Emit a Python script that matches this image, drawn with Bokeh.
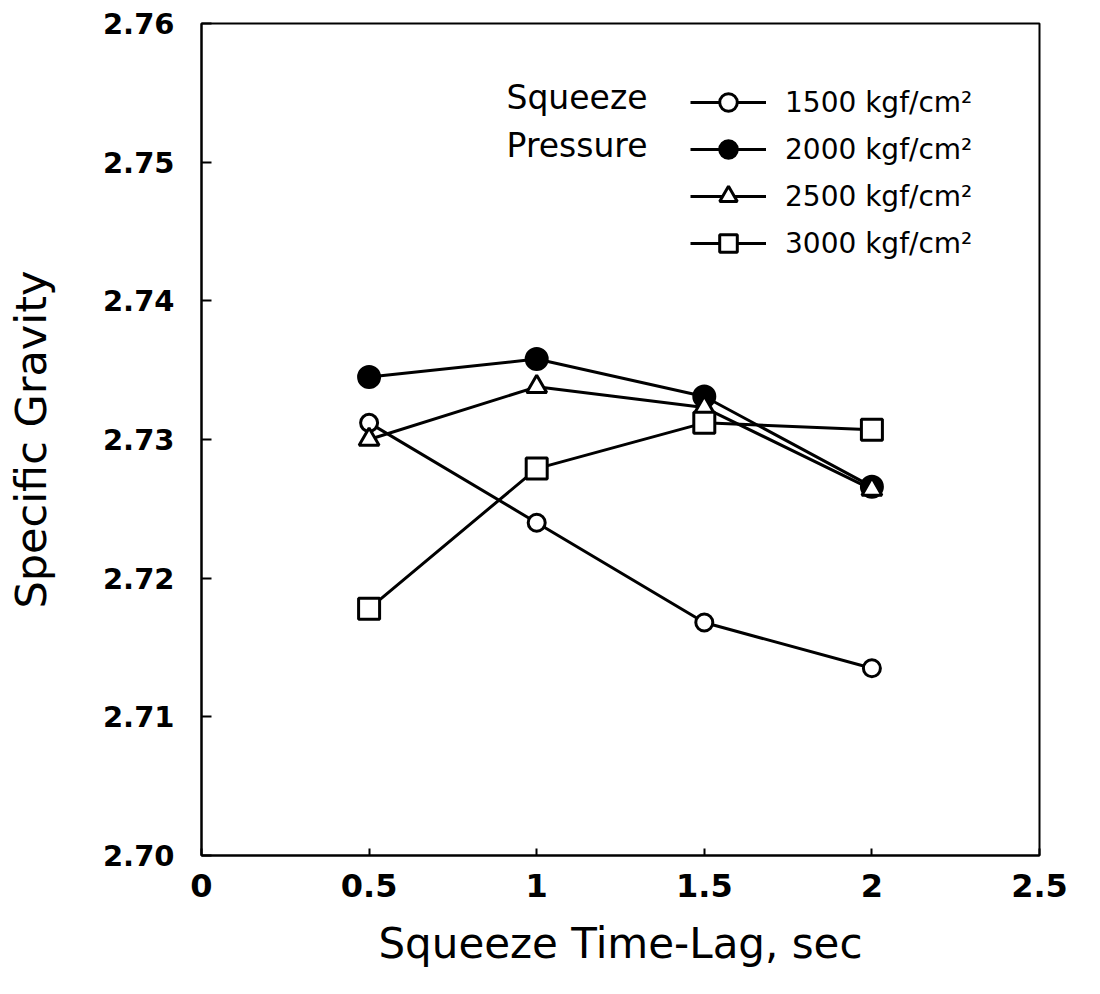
from bokeh.plotting import figure
from bokeh.models import Legend, LegendItem, Label, FixedTicker, Range1d
from bokeh.embed import file_html
from bokeh.resources import INLINE

# ---- data ----
time_lag = [0.5, 1.0, 1.5, 2.0]
sg_1500 = [2.7312, 2.7240, 2.7168, 2.7135]
sg_2000 = [2.7345, 2.7358, 2.7331, 2.7266]
sg_2500 = [2.7300, 2.7338, 2.7323, 2.7264]
sg_3000 = [2.7178, 2.7279, 2.7312, 2.7307]
series_labels = ["1500 kgf/cm\u00b2", "2000 kgf/cm\u00b2", "2500 kgf/cm\u00b2", "3000 kgf/cm\u00b2"]
x_ticks = [0, 0.5, 1, 1.5, 2, 2.5]
x_tick_labels = ["0", "0.5", "1", "1.5", "2", "2.5"]
y_ticks = [2.70, 2.71, 2.72, 2.73, 2.74, 2.75, 2.76]
y_tick_labels = ["2.70", "2.71", "2.72", "2.73", "2.74", "2.75", "2.76"]
x_title = "Squeeze Time-Lag, sec"
y_title = "Specific Gravity"
legend_title = ["Squeeze", "Pressure"]

p = figure(width=1080, height=978, output_backend="svg", toolbar_location=None,
           x_range=Range1d(0, 2.5), y_range=Range1d(2.70, 2.76),
           min_border_left=201, min_border_right=41, min_border_top=23, min_border_bottom=123)
p.background_fill_color = "white"
p.border_fill_color = "white"
p.xgrid.visible = False
p.ygrid.visible = False
p.outline_line_color = "black"
p.outline_line_width = 2

# axes
p.xaxis.ticker = FixedTicker(ticks=x_ticks)
p.xaxis.major_label_overrides = {t: l for t, l in zip(x_ticks, x_tick_labels)}
p.yaxis.ticker = FixedTicker(ticks=y_ticks)
p.yaxis.major_label_overrides = {t: l for t, l in zip(y_ticks, y_tick_labels)}
p.xaxis.minor_tick_line_color = None
p.yaxis.minor_tick_line_color = None
for ax in (p.xaxis, p.yaxis):
    ax.axis_line_color = "black"
    ax.axis_line_width = 2
    ax.major_tick_line_color = "black"
    ax.major_tick_line_width = 2
    ax.major_tick_out = 0
    ax.major_label_text_color = "black"
    ax.major_label_text_font = "DejaVu Sans"
    ax.major_label_text_font_style = "bold"
    ax.axis_label_text_color = "black"
    ax.axis_label_text_font_style = "normal"
    ax.axis_label_text_font = "DejaVu Sans"
p.xaxis.major_tick_in = 7
p.yaxis.major_tick_in = 10
p.xaxis.major_label_text_font_size = "32px"
p.yaxis.major_label_text_font_size = "29px"
p.xaxis.major_label_standoff = 18
p.yaxis.major_label_standoff = 27
p.xaxis.axis_label = x_title
p.yaxis.axis_label = y_title
p.xaxis.axis_label_text_font_size = "42px"
p.yaxis.axis_label_text_font_size = "43px"
p.xaxis.axis_label_standoff = 19
p.yaxis.axis_label_standoff = 44

# series
items = []
specs = [
    (sg_1500, "circle", "white", 17),
    (sg_2000, "circle", "black", 21),
    (sg_2500, "triangle", "white", 20),
    (sg_3000, "square", "white", 21),
]
for (vals, marker, fill, size), lab in zip(specs, series_labels):
    r_line = p.line(time_lag, vals, line_color="black", line_width=3)
    r_mark = p.scatter(time_lag, vals, marker=marker, size=size, fill_color=fill,
                       line_color="black", line_width=3)
    items.append(LegendItem(label=lab, renderers=[r_line, r_mark]))

legend = Legend(items=items, location=(489, 590), orientation="vertical",
                glyph_width=76, glyph_height=44, label_height=44, spacing=3,
                label_standoff=19, padding=0, margin=0,
                border_line_color=None, background_fill_alpha=0,
                label_text_font="DejaVu Sans", label_text_font_size="28px",
                label_text_color="black")
p.add_layout(legend)

for txt, yy in zip(legend_title, [758, 710]):
    p.add_layout(Label(x=446, y=yy, x_units="screen", y_units="screen", text=txt,
                       text_align="right", text_baseline="middle", text_font="DejaVu Sans",
                       text_font_size="33px", text_color="black"))

open("out.html", "w").write(file_html(p, INLINE))
